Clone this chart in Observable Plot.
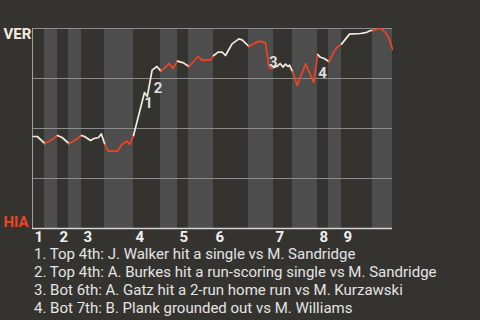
<!DOCTYPE html>
<html>
<head>
<meta charset="utf-8">
<script src="https://cdn.jsdelivr.net/npm/d3@7"></script>
<script src="https://cdn.jsdelivr.net/npm/@observablehq/plot@0.6"></script>
<style>
  html, body { margin: 0; padding: 0; background: #353330; }
  body { width: 480px; height: 320px; overflow: hidden; font-family: Roboto, "Noto Sans", sans-serif; }
  #caption { margin: 0; padding-left: 34px; padding-top: 1px; color: #e4e4e4; font-size: 15px; line-height: 18px; }
  #caption div { white-space: nowrap; }
</style>
</head>
<body>
<div id="chart"></div>
<div id="caption"></div>
<script>
// Game progress (plate-appearance scale) and VER win probability
const progress = [0.2, 1.2, 3.1, 4.5, 6.25, 7.4, 9.1, 10.5, 12.25, 13, 14.5, 15.4, 16.5, 17.2,
  18.1, 18.9, 21.3, 22.3, 23.6, 24.3, 25.25, 28, 28.7, 29.9, 31.1, 32.1, 33.25, 34.25, 35.1,
  36.25, 37.75, 39.1, 40.25, 41.4, 42.4, 44.5, 45.3, 46.4, 47.4, 48.25, 49.9, 51.6, 52.4,
  54.1, 56.6, 58.25, 59.1, 59.6, 60.25, 61.25, 61.9, 62.6, 63.25, 63.9, 64.25, 65, 66.2,
  68.25, 70.3, 71.3, 72, 72.8, 74.1, 75.3, 76.2, 77.25, 78.25, 79.25, 82, 83.6, 84.5, 85.1,
  86.6, 87.4, 88.25, 89.1, 90];
const verWinProb = [0.46, 0.46, 0.425, 0.44, 0.465, 0.455, 0.425, 0.44, 0.465, 0.46, 0.44, 0.45, 0.455, 0.473,
  0.42, 0.387, 0.387, 0.42, 0.437, 0.42, 0.465, 0.68, 0.66, 0.792, 0.81, 0.787, 0.807, 0.825, 0.8,
  0.837, 0.828, 0.81, 0.835, 0.86, 0.842, 0.842, 0.865, 0.882, 0.882, 0.865, 0.923, 0.948, 0.943,
  0.91, 0.937, 0.928, 0.805, 0.8, 0.805, 0.812, 0.825, 0.807, 0.822, 0.81, 0.817, 0.785, 0.715,
  0.823, 0.731, 0.87, 0.856, 0.851, 0.835, 0.882, 0.907, 0.922, 0.947, 0.972, 0.975, 0.981, 0.99, 0.99,
  1.0, 0.996, 0.98, 0.952, 0.896];

// Half-inning boundaries (top 1, bot 1, top 2, ... bot 9, end)
const halfInningStarts = [0, 3, 6.25, 9, 12.25, 18, 25.25, 32, 36.25, 39, 45.25, 54, 60.25, 65, 71.25, 74, 77.25, 85, 90];
const inningLabels = ["1", "2", "3", "4", "5", "6", "7", "8", "9"];

const teamNames = ["VER", "HIA"];
const teamProb = [1, 0];
const gridValues = [0.25, 0.5, 0.75, 1];

// Key events: label and label position
const eventLabels = ["1", "2", "3", "4"];
const eventLabelX = [29, 31.4, 60.2, 72.5];
const eventLabelY = [0.625, 0.70, 0.83, 0.775];
const captionLines = [
  "1. Top 4th: J. Walker hit a single vs M. Sandridge",
  "2. Top 4th: A. Burkes hit a run-scoring single vs M. Sandridge",
  "3. Bot 6th: A. Gatz hit a 2-run home run vs M. Kurzawski",
  "4. Bot 7th: B. Plank grounded out vs M. Williams"
];

const CREAM = "#f1ecdd";
const RED = "#ec4524";
const BG = "#353330";
const BAND = "#4d4d4d";

const nHalves = halfInningStarts.length - 1;
const halfOf = u => {
  for (let h = nHalves - 1; h >= 0; h--) if (u >= halfInningStarts[h]) return h;
  return 0;
};
const pts = progress.map((u, i) => ({u, wp: verWinProb[i], half: halfOf(u)}));
const segs = [];
for (let h = 0; h < nHalves; h++) {
  const inHalf = pts.filter(p => p.half === h);
  const next = pts.find(p => p.half > h);
  const list = next ? inHalf.concat([next]) : inHalf;
  list.forEach(p => segs.push({u: p.u, wp: p.wp, seg: h, color: h % 2 === 0 ? CREAM : RED}));
}
const bands = [];
for (let h = 1; h < nHalves; h += 2) bands.push({x1: halfInningStarts[h], x2: halfInningStarts[h + 1]});
const inningStarts = inningLabels.map((t, i) => ({u: halfInningStarts[2 * i], t}));
const teams = teamNames.map((t, i) => ({t, wp: teamProb[i], c: i === 0 ? CREAM : RED}));
const events = eventLabels.map((t, i) => ({t, u: eventLabelX[i], wp: eventLabelY[i]}));

const chart = Plot.plot({
  width: 480,
  height: 244,
  marginLeft: 32,
  marginRight: 88,
  marginTop: 28,
  marginBottom: 16,
  x: {domain: [0, 90], axis: null},
  y: {domain: [0, 1], axis: null},
  color: {type: "identity"},
  style: {background: BG, fontFamily: "Roboto, sans-serif", overflow: "visible"},
  marks: [
    Plot.rect(bands, {x1: "x1", x2: "x2", y1: 0, y2: 1, fill: BAND}),
    Plot.ruleY(gridValues, {stroke: "#8c8c8c", strokeWidth: 1}),
    Plot.ruleX([0], {stroke: "#a0a0a0", strokeWidth: 1}),
    Plot.ruleY([0], {stroke: "#d4d4d4", strokeWidth: 1.5}),
    Plot.line(segs, {x: "u", y: "wp", z: "seg", stroke: "color", strokeWidth: 1.7, curve: "linear"}),
    Plot.text(events, {x: "u", y: "wp", text: "t", fill: "#dedede", fontSize: 15, fontWeight: "bold"}),
    Plot.text(inningStarts, {x: "u", text: "t", frameAnchor: "bottom", textAnchor: "start", lineAnchor: "top",
      dx: 2, dy: 3, fill: "#f0f0f0", fontSize: 15, fontWeight: "bold"}),
    Plot.text(teams.slice(0, 1), {y: "wp", text: "t", frameAnchor: "left", textAnchor: "start", lineAnchor: "top",
      dx: -29, dy: 0, fill: "c", fontSize: 15, fontWeight: "bold"}),
    Plot.text(teams.slice(1), {y: "wp", text: "t", frameAnchor: "left", textAnchor: "start", lineAnchor: "bottom",
      dx: -29, dy: -2, fill: "c", fontSize: 15, fontWeight: "bold"})
  ]
});
document.getElementById("chart").appendChild(chart);
const cap = document.getElementById("caption");
captionLines.forEach(s => { const d = document.createElement("div"); d.textContent = s; cap.appendChild(d); });
</script>
</body>
</html>
